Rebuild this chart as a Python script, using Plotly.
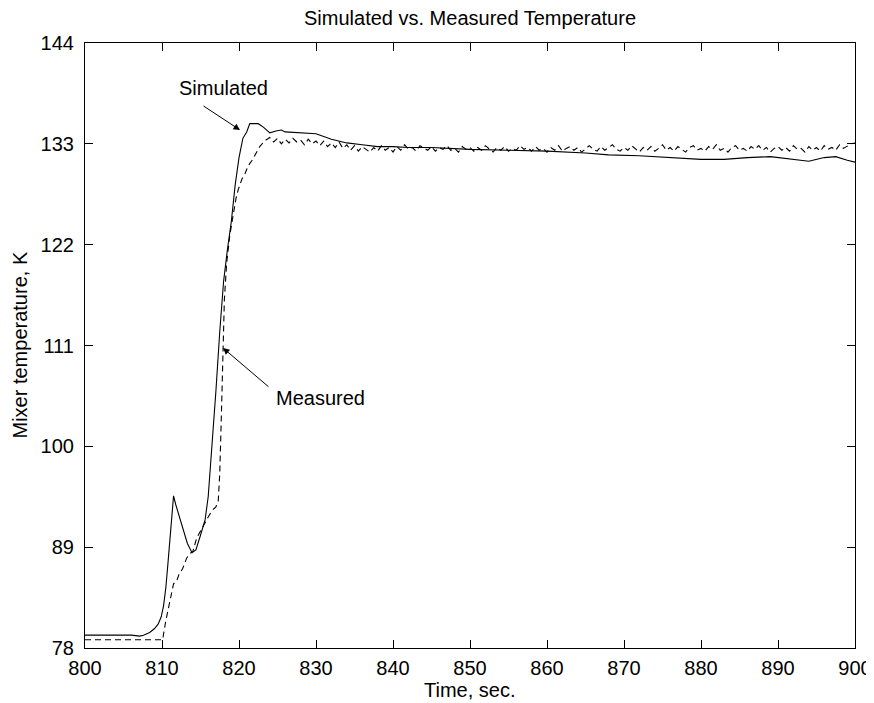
import numpy as np
import plotly.graph_objects as go

# ---- data ----
sim_t = [800, 802, 804, 806, 807.1, 807.6, 808.4, 809.0, 809.5, 809.9, 810.2, 810.5,
         810.8, 811.1, 811.5, 811.8, 812.3, 812.8, 813.3, 813.9, 814.4, 815.0, 815.6,
         816.0, 816.5, 817.0, 817.5, 818.0, 818.5, 819.0, 819.5, 820.0, 820.5, 821.0,
         821.4, 822.5, 823.2, 824.0, 824.8, 825.5, 826.0, 828, 830, 832, 834, 836, 838,
         840, 842, 845, 850, 855, 860, 865, 868, 872, 876, 880, 883, 886, 889, 892,
         894, 896, 897.5, 899, 900]
sim_v = [79.4, 79.4, 79.4, 79.4, 79.3, 79.4, 79.7, 80.1, 80.6, 81.4, 82.6, 84.6,
         87.5, 90.8, 94.6, 93.6, 92.2, 90.7, 89.4, 88.4, 88.7, 90.3, 92.0,
         94.5, 100.0, 106.0, 112.5, 118.0, 121.5, 124.5, 128.5, 131.5, 133.6, 134.3,
         135.2, 135.2, 134.8, 134.2, 134.4, 134.5, 134.3, 134.2, 134.1, 133.5, 133.1,
         132.9, 132.7, 132.7, 132.6, 132.6, 132.4, 132.3, 132.2, 132.0, 131.8, 131.7,
         131.5, 131.3, 131.3, 131.5, 131.6, 131.3, 131.1, 131.5, 131.6, 131.2, 131.0]

meas_t_rise = [800, 803, 806, 809, 810.1, 810.2, 810.5, 811.0, 811.5, 811.9, 812.2,
               812.7, 813.2, 813.6, 814.0, 814.5, 815.0, 815.5, 816.0, 816.5, 817.0,
               817.3, 817.5, 817.7, 817.9, 818.1, 818.4, 818.8, 819.2, 819.6, 819.9,
               820.4, 820.8, 821.2, 821.7, 822.2, 822.7, 823.3, 824.0]
meas_v_rise = [78.9, 78.9, 78.9, 78.9, 78.9, 79.5, 81.0, 83.0, 85.0, 85.3, 86.0,
               86.7, 87.8, 88.3, 88.5, 90.0, 90.8, 91.5, 92.3, 93.0, 93.4,
               94.0, 97.0, 103.0, 110.0, 116.0, 120.0, 123.0, 125.0, 127.0, 128.0,
               129.2, 129.8, 130.6, 131.2, 132.0, 132.7, 133.3, 133.7]
meas_t_noise = list(np.arange(824.5, 900.01, 0.5))
meas_v_noise = [
    133.2, 133.6, 133.0, 133.5, 133.1, 133.6, 133.2, 133.4, 132.9, 133.5, 133.0, 133.3,
    132.8, 133.3, 132.7, 133.1, 132.6, 133.2, 132.5, 132.9, 132.3, 132.8, 132.2, 132.7, 132.4, 132.1, 132.6, 132.2, 132.8, 132.3, 132.6, 132.1,
    132.7, 132.3, 132.9, 132.4, 132.6, 132.2, 132.8, 132.5, 132.3, 132.7, 132.2, 132.6, 132.4, 132.8, 132.3, 132.5, 132.1, 132.7, 132.4, 132.6,
    132.2, 132.6, 132.3, 132.8, 132.4, 132.1, 132.6, 132.3, 132.7, 132.2, 132.5, 132.3, 132.8, 132.4, 132.6, 132.2, 132.7, 132.3, 132.5, 132.1,
    132.6, 132.3, 132.8, 132.2, 132.5, 132.7, 132.3, 132.6, 132.1, 132.5, 132.8, 132.4, 132.2, 132.7, 132.3, 132.6, 132.9, 132.4, 132.2, 132.6,
    132.3, 132.8, 132.4, 132.1, 132.6, 132.3, 132.7, 132.2, 132.5, 132.9, 132.3, 132.6, 132.2, 132.7, 132.4, 132.1, 132.6, 132.8, 132.3, 132.5,
    132.2, 132.7, 132.4, 132.9, 132.3, 132.5, 132.1, 132.6, 132.8, 132.3, 132.5, 132.2, 132.7, 132.4, 132.8, 132.3, 132.6, 132.1, 132.5, 132.7,
    132.3, 132.6, 132.2, 132.8, 132.4, 132.5, 132.1, 132.7, 132.3, 132.6, 132.2, 132.8, 132.4, 132.6, 132.3, 132.9, 132.5, 132.8, 133.0, 133.1,
]
meas_t = meas_t_rise + meas_t_noise
meas_v = meas_v_rise + meas_v_noise

x_ticks = [800, 810, 820, 830, 840, 850, 860, 870, 880, 890, 900]
y_ticks = [78, 89, 100, 111, 122, 133, 144]

title_text = "Simulated vs. Measured Temperature"
x_label = "Time, sec."
y_label = "Mixer temperature, K"

FONT = "Liberation Sans, Arial, Helvetica, sans-serif"
FS = 20

fig = go.Figure()
fig.add_trace(go.Scatter(x=sim_t, y=sim_v, mode="lines", name="Simulated",
                         line=dict(color="black", width=1.1)))
fig.add_trace(go.Scatter(x=meas_t, y=meas_v, mode="lines", name="Measured",
                         line=dict(color="black", width=1.1, dash="6px,4px")))

axis_common = dict(showline=True, linecolor="black", linewidth=1.2, mirror="ticks",
                   ticks="inside", ticklen=8, tickwidth=1, tickcolor="black",
                   showgrid=False, zeroline=False, automargin=False,
                   tickfont=dict(family=FONT, size=FS, color="black"))
fig.update_xaxes(range=[800, 900], tickvals=x_ticks, ticklabelstandoff=2, **axis_common)
fig.update_yaxes(range=[78, 144], tickvals=y_ticks, ticklabelstandoff=6, **axis_common)

# page body has an 8px default margin, so the figure is 8px smaller on each axis
fig.update_layout(
    width=866, height=695,
    margin=dict(l=77, r=19, t=35, b=55),
    plot_bgcolor="white", paper_bgcolor="white",
    showlegend=False,
    font=dict(family=FONT, size=FS, color="black"),
    annotations=[
        dict(text=title_text, xref="paper", yref="paper", x=0.5, y=1, yshift=25,
             xanchor="center", yanchor="middle", showarrow=False,
             font=dict(family=FONT, size=FS)),
        dict(text=x_label, xref="paper", yref="paper", x=0.5, y=0, yshift=-42,
             xanchor="center", yanchor="middle", showarrow=False,
             font=dict(family=FONT, size=FS)),
        dict(text=y_label, xref="paper", yref="paper", x=0, xshift=-66, y=0.5,
             xanchor="center", yanchor="middle", showarrow=False, textangle=-90,
             font=dict(family=FONT, size=FS)),
        dict(text="Simulated", x=818.05, y=139.09, showarrow=False,
             xanchor="center", yanchor="middle", font=dict(family=FONT, size=FS)),
        dict(text="Measured", x=830.52, y=105.27, showarrow=False,
             xanchor="center", yanchor="middle", font=dict(family=FONT, size=FS)),
        dict(text="", x=820.13, y=134.51, ax=-38, ay=-25, showarrow=True,
             arrowhead=2, arrowsize=1.3, arrowwidth=1, arrowcolor="black"),
        dict(text="", x=817.92, y=110.73, ax=47, ay=40, showarrow=True,
             arrowhead=2, arrowsize=1.3, arrowwidth=1, arrowcolor="black"),
    ],
)

fig.write_html("out.html")
